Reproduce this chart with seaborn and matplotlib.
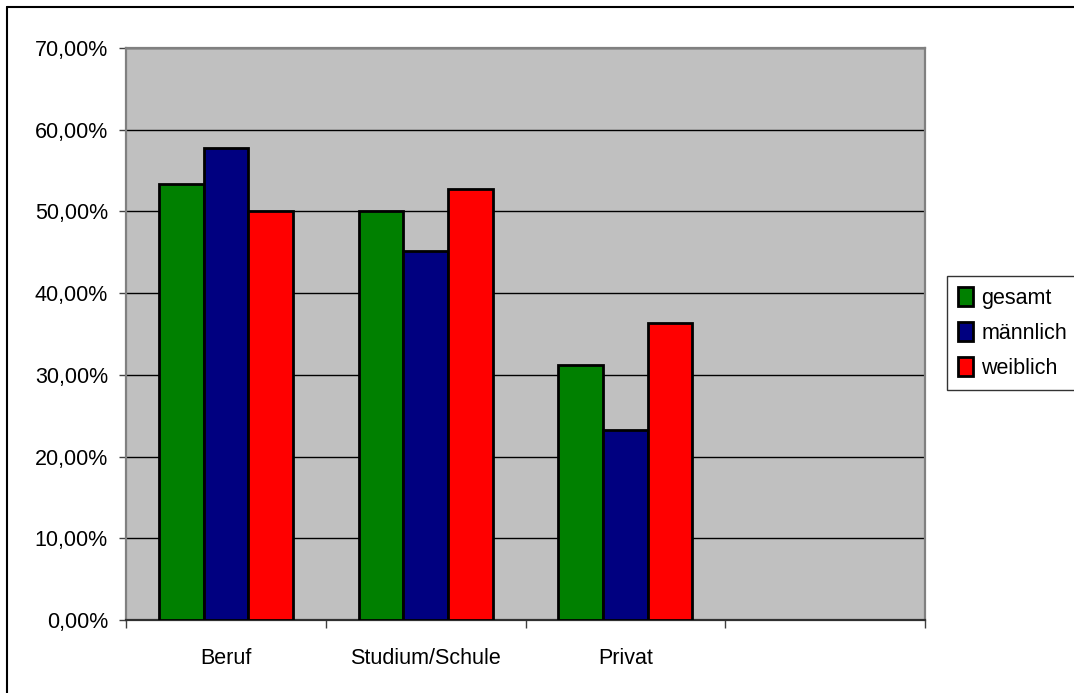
import pandas as pd
import seaborn as sns
from matplotlib import pyplot as plt
from matplotlib.lines import Line2D
from matplotlib.ticker import FuncFormatter, MultipleLocator, FixedLocator

# Werte in Prozent
kategorien = ["Beruf", "Studium/Schule", "Privat", ""]
gruppen = ["gesamt", "männlich", "weiblich"]
gesamt = [53.4, 50.0, 31.2]
maennlich = [57.8, 45.2, 23.2]
weiblich = [50.0, 52.8, 36.4]
farben = ["#008000", "#000080", "#ff0000"]

rows = []
for g, werte in zip(gruppen, [gesamt, maennlich, weiblich]):
    for k, w in zip(kategorien[:3], werte):
        rows.append({"kategorie": k, "gruppe": g, "wert": w})
df = pd.DataFrame(rows)

sns.set_style("white")
plt.rcParams["font.family"] = ["Liberation Sans", "DejaVu Sans"]
plt.rcParams["text.color"] = "black"
plt.rcParams["xtick.color"] = "black"
plt.rcParams["ytick.color"] = "black"

fig = plt.figure(figsize=(10.74, 6.93), dpi=100)
ax = fig.add_axes([126 / 1074, 73 / 693, 799 / 1074, 572 / 693])
ax.set_facecolor("#c0c0c0")

sns.barplot(data=df, x="kategorie", y="wert", hue="gruppe", order=kategorien,
            hue_order=gruppen, palette=farben, width=0.67, saturation=1,
            edgecolor="black", linewidth=2.0, errorbar=None, ax=ax, zorder=3)

ax.set_ylim(0, 70)
ax.set_xlim(-0.5, 3.5)
ax.yaxis.set_major_locator(MultipleLocator(10))
ax.yaxis.set_major_formatter(FuncFormatter(lambda v, p: f"{v:.2f}%".replace(".", ",")))
ax.grid(axis="y", color="black", linewidth=1.0, zorder=1)
ax.set_axisbelow(True)

# Ticks zwischen den Kategorien, Beschriftungen in der Mitte
ax.xaxis.set_major_locator(FixedLocator([-0.5, 0.5, 1.5, 2.5, 3.5]))
ax.xaxis.set_major_formatter(FuncFormatter(lambda v, p: ""))
ax.xaxis.set_minor_locator(FixedLocator([0, 1, 2, 3]))
ax.set_xticklabels(kategorien, minor=True)
ax.tick_params(axis="x", which="major", direction="out", length=6, width=1, color="#404040", bottom=True)
ax.tick_params(axis="x", which="minor", length=0, pad=20, labelsize=15.5, labelcolor="black", bottom=True)
ax.tick_params(axis="y", direction="out", length=5, width=1, color="#404040", pad=8,
               labelsize=15.5, labelcolor="black", left=True)

ax.set_xlabel("")
ax.set_ylabel("")
for s in ["left", "top", "right"]:
    ax.spines[s].set_color("#808080")
    ax.spines[s].set_linewidth(1.6)
ax.spines["bottom"].set_color("#303030")
ax.spines["bottom"].set_linewidth(1.6)

leg = ax.legend(loc="center left", bbox_to_anchor=(947 / 1074, (693 - 333) / 693),
                bbox_transform=fig.transFigure, frameon=True, fancybox=False,
                edgecolor="black", fontsize=15.5, handlelength=0.7, handleheight=1.0,
                handletextpad=0.4, labelspacing=0.6, borderpad=0.5, borderaxespad=0)
leg.get_frame().set_linewidth(1.0)
for t in leg.get_texts():
    t.set_color("black")

# Rahmen des Diagrammbereichs (nur links und oben sichtbar)
fig.add_artist(Line2D([7 / 1074, 7 / 1074], [0, 1 - 7 / 693], color="black", linewidth=1.5))
fig.add_artist(Line2D([7 / 1074, 1], [1 - 7 / 693, 1 - 7 / 693], color="black", linewidth=1.5))

fig.savefig("out.png", dpi=100)
